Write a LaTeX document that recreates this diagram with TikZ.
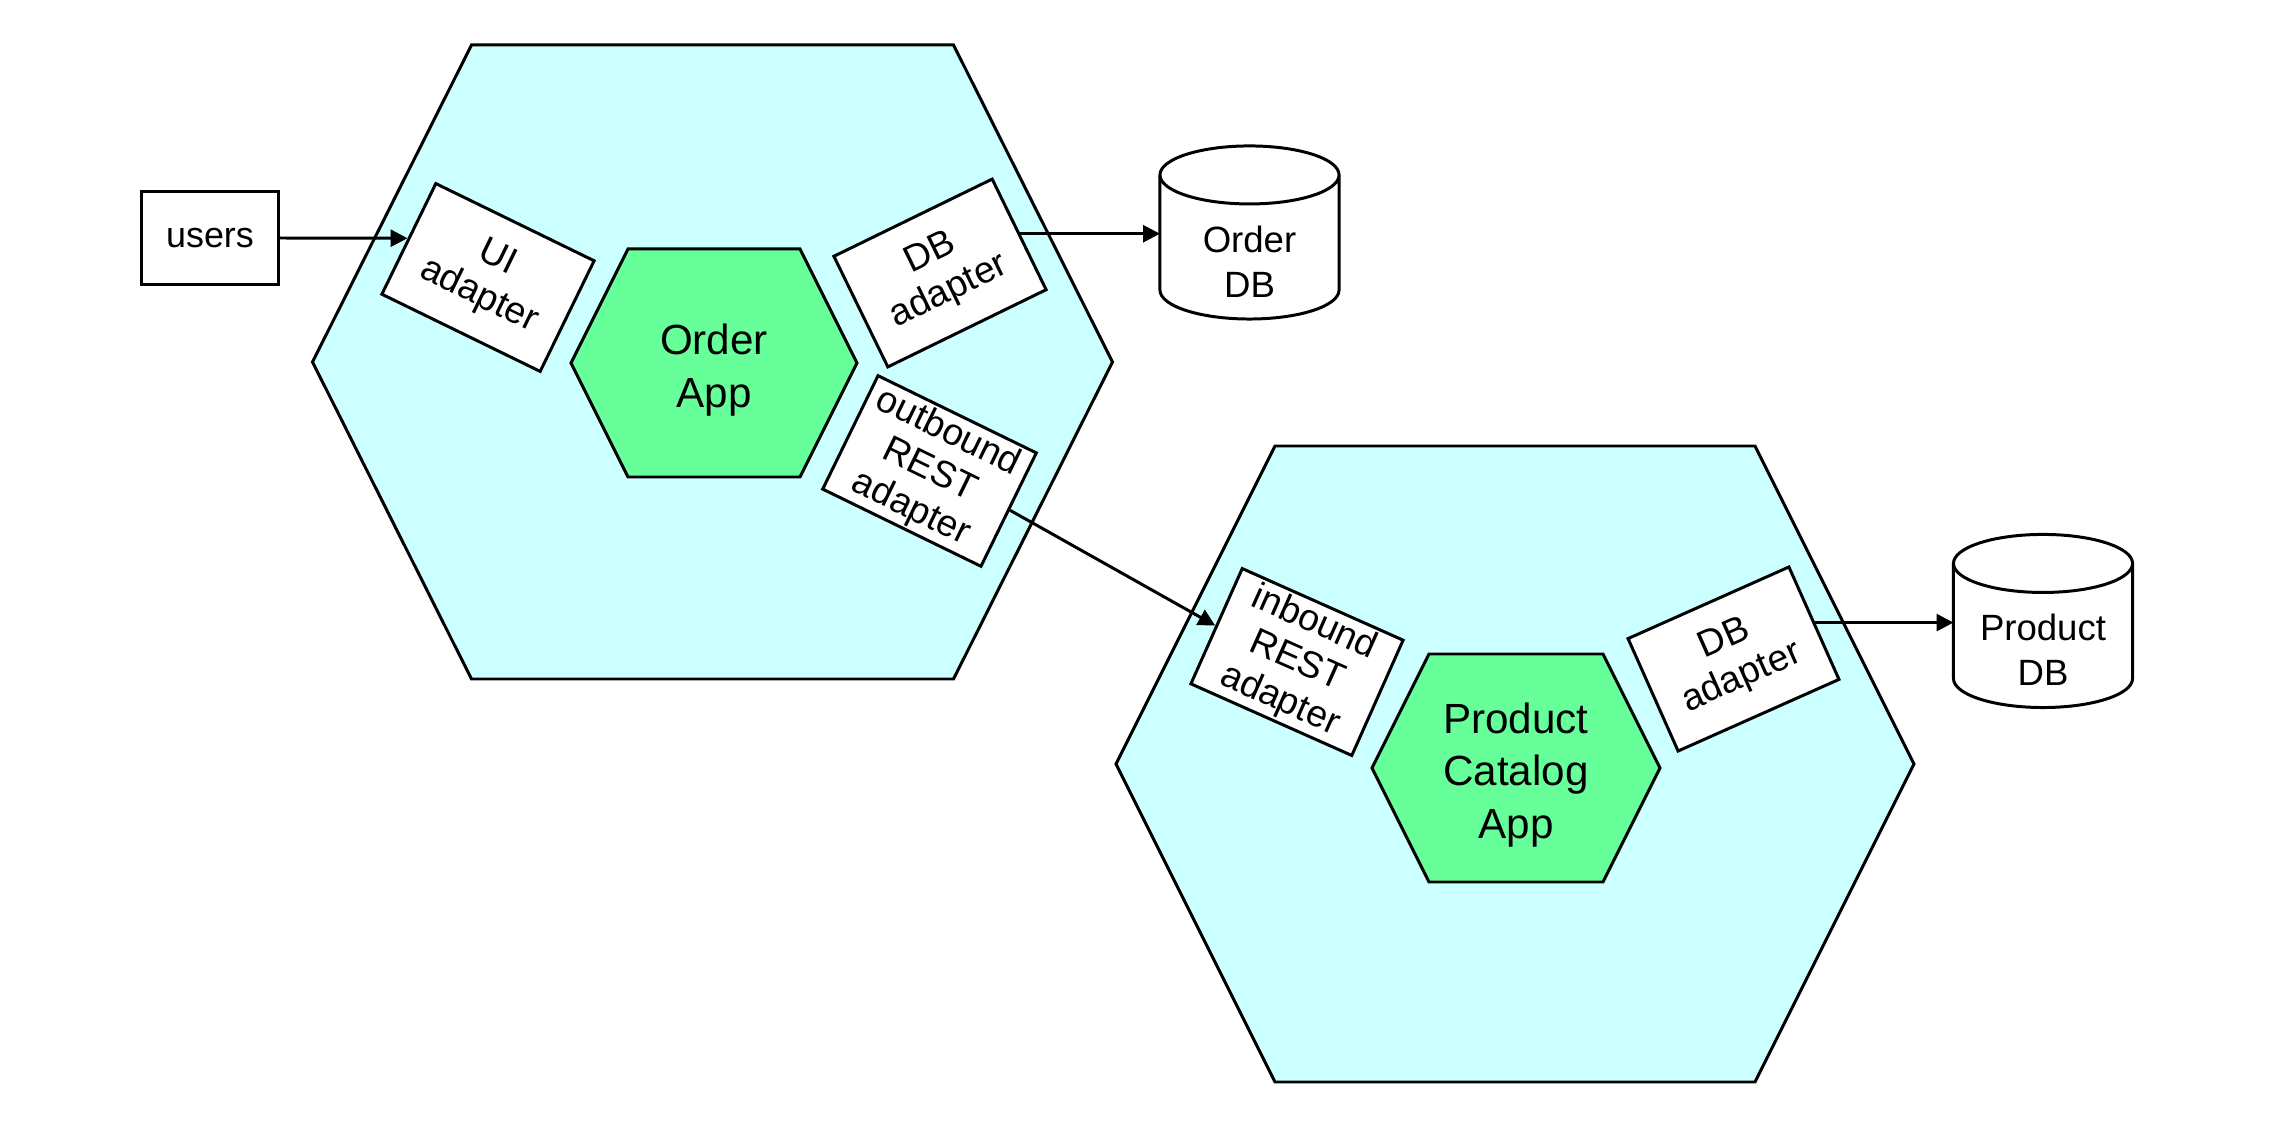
\documentclass[tikz,border=0pt]{standalone}
\usepackage{fontspec}
\setmainfont{Liberation Sans}
\usetikzlibrary{shapes.geometric, arrows.meta}
\definecolor{hexcyan}{HTML}{CCFFFF}
\definecolor{appgreen}{HTML}{66FF99}
\tikzstyle{actor} = [rectangle, draw, fill=white, text centered, minimum width=1.36cm, minimum height=0.92cm, font=\fontsize{10.2}{12}\selectfont]
\tikzstyle{adapter} = [rectangle, draw, fill=white, align=center, inner sep=1pt, minimum width=1.76cm, minimum height=1.23cm, font=\fontsize{10.6}{12}\selectfont]
\tikzstyle{hexagon} = [draw, fill=hexcyan, line join=miter]
\tikzstyle{core} = [draw, fill=appgreen, line join=miter]
\tikzstyle{coretext} = [align=center, yshift=-0.07cm, font=\fontsize{12}{15}\selectfont]
\tikzstyle{connector} = [draw, -{Triangle[length=4.8pt, width=4.8pt]}]
\tikzset{
  database/.style={
    rectangle,
    align=center,
    inner sep=0pt,
    outer sep=0pt,
    minimum width=1.79cm,
    minimum height=1.15cm,
    font=\fontsize{10.4}{12.8}\selectfont}
}
% cylinder outline round the body of a database node
\newcommand{\dbcylinder}[1]{%
  \draw ([yshift=0.29cm]#1.north west) -- ([yshift=0.29cm]#1.south west)
    arc[start angle=180, end angle=360, x radius=0.895cm, y radius=0.29cm]
    -- ([yshift=0.29cm]#1.north east)
    arc[start angle=0, end angle=180, x radius=0.895cm, y radius=0.29cm] -- cycle
    ([yshift=0.29cm]#1.north west)
    arc[start angle=180, end angle=360, x radius=0.895cm, y radius=0.29cm];}

\begin{document}
\begin{tikzpicture}[x=0.01cm, y=-0.01cm, line width=0.85pt]
      \useasboundingbox (0,0) rectangle (2294,1128);
      % Hexagon centres
      \coordinate (order_hex) at (712.5,362);
      \coordinate (product_hex) at (1515,764);
      \coordinate (order_core) at (714,363);
      \coordinate (product_core) at (1516,768);

      % Draw hexagons
      \draw [hexagon] (order_hex) ++(-400,0) -- ++(159,-317) -- ++(482,0) -- ++(159,317) -- ++(-159,317) -- ++(-482,0) -- cycle;
      \draw [hexagon] (product_hex) ++(-399,0) -- ++(159,-318) -- ++(480,0) -- ++(159,318) -- ++(-159,318) -- ++(-480,0) -- cycle;
      \draw [core] (order_core) ++(-143,0) -- ++(57,-114) -- ++(172,0) -- ++(57,114) -- ++(-57,114) -- ++(-172,0) -- cycle;
      \draw [core] (product_core) ++(-144,0) -- ++(57,-114) -- ++(174,0) -- ++(57,114) -- ++(-57,114) -- ++(-174,0) -- cycle;

      % Define nodes
      \node (order_app) [coretext] at (order_core) {Order\\App};
      \node (product_app) [coretext] at (product_core) {Product\\Catalog\\App};
      \node (users) [actor] at (210,238) {users};
      \node (ui_adapter) [adapter, rotate=-26] at (488,277.5) {UI\\adapter};
      \node (order_db_adapter) [adapter, rotate=26] at (940,273) {DB\\adapter};
      \node (outbound_rest) [adapter, rotate=-26] at (929.5,471) {outbound\\REST\\adapter};
      \node (inbound_rest) [adapter, rotate=-24] at (1297,662) {inbound\\REST\\adapter};
      \node (product_db_adapter) [adapter, rotate=24] at (1733.5,659) {DB\\adapter};
      \node (order_db) [database] at (1249.5,261.5) {Order\\DB};
      \node (product_db) [database] at (2043,650) {Product\\DB};
      \dbcylinder{order_db}
      \dbcylinder{product_db}

      % Draw connectors
      \draw [connector] (users.east) -- (ui_adapter.west);
      \draw [connector] (order_db_adapter.east) -- (order_db_adapter.east -| order_db.west);
      \draw [connector] (outbound_rest.east) -- (inbound_rest.west);
      \draw [connector] (product_db_adapter.east) -- (product_db_adapter.east -| product_db.west);
\end{tikzpicture}
\end{document}
